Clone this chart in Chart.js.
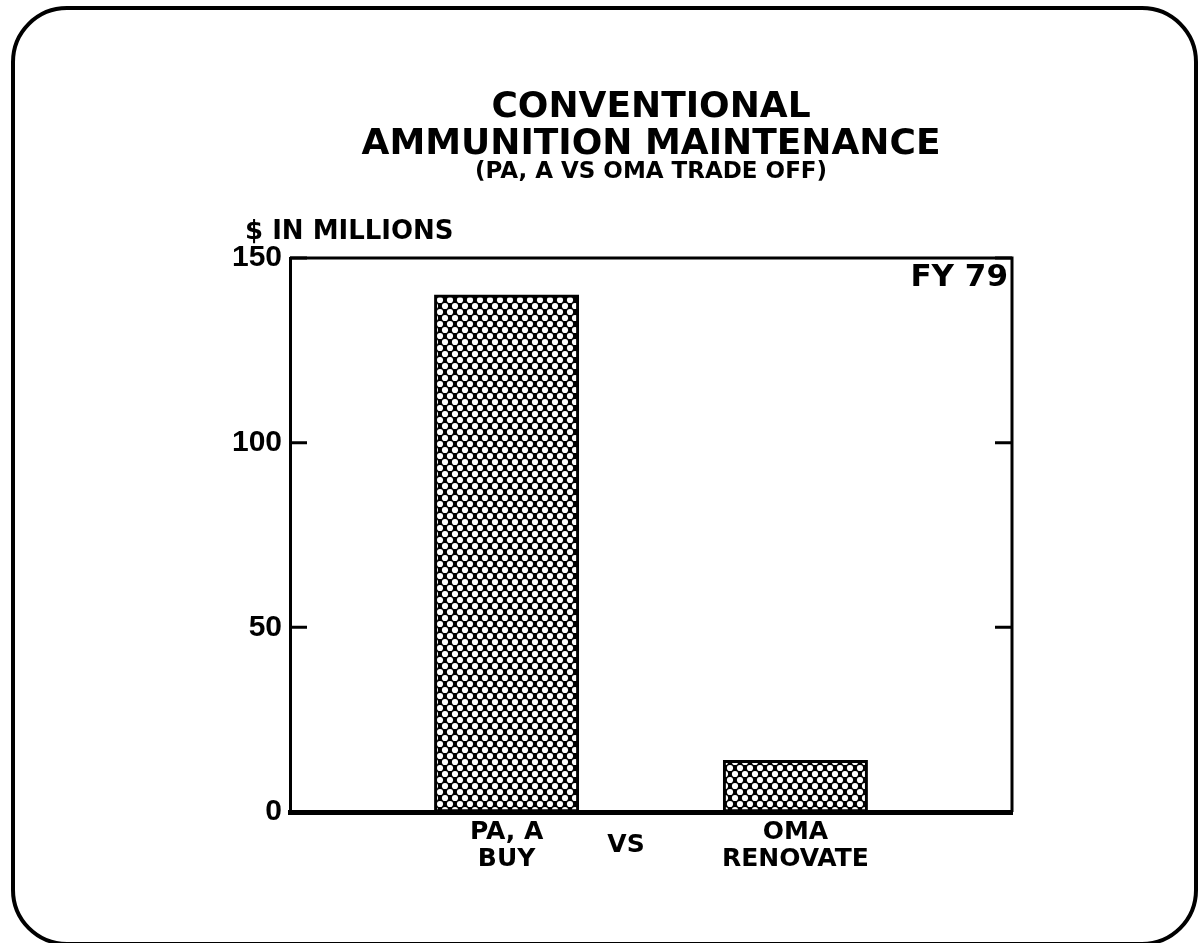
<!DOCTYPE html>
<html>
<head>
<meta charset="utf-8">
<title>Conventional Ammunition Maintenance</title>
<script src="https://cdn.jsdelivr.net/npm/chart.js@4.4.1/dist/chart.umd.min.js"></script>
<style>
  html, body { margin: 0; padding: 0; background: #fff; }
  .frame {
    position: absolute; left: 11px; top: 6px; width: 1187px; height: 940px;
    box-sizing: border-box; border: 4px solid #000; border-radius: 56px;
  }
  #chart { position: absolute; left: 0; top: 0; }
</style>
</head>
<body>
<div class="frame"></div>
<canvas id="chart" width="1200" height="943"></canvas>
<script>
// categories: empty slots on each side keep the bars spaced like the slide
// ("VS" carries trailing em spaces so it sits a little left of its slot)
const categories = [ '', ['PA, A', 'BUY'], 'VS\u2003\u2003', ['OMA', 'RENOVATE'], '' ];
const amounts = [ null, 140, null, 14, null ];   // $ in millions, FY 79
const yTicks = [ 0, 50, 100, 150 ];

const TEXT = "'DejaVu Sans', Verdana, sans-serif";
const NUM = "'Liberation Sans', Arial, Helvetica, sans-serif";

// cross-hatch fill: black with round white holes
function hatchPattern() {
    const c = document.createElement('canvas');
    c.width = 10; c.height = 12;
    const g = c.getContext('2d');
    g.fillStyle = '#000';
    g.fillRect(0, 0, 10, 12);
    g.fillStyle = '#fff';
    [[5, 6], [0, 0], [10, 0], [0, 12], [10, 12]].forEach(([x, y]) => {
        g.beginPath();
        g.arc(x, y, 3.1, 0, Math.PI * 2);
        g.fill();
    });
    return g.createPattern(c, 'repeat');
}

// top/right frame, inward ticks, axis caption and FY tag
const plotFrame = {
    id: 'plotFrame',
    afterDraw(chart) {
        const { ctx, chartArea: a, scales: { y } } = chart;
        ctx.save();
        ctx.strokeStyle = '#000';
        ctx.lineWidth = 3;
        ctx.beginPath();
        ctx.moveTo(a.left, a.top);
        ctx.lineTo(a.right, a.top);
        ctx.lineTo(a.right, a.bottom);
        ctx.stroke();

        yTicks.forEach(v => {
            const py = y.getPixelForValue(v);
            ctx.beginPath();
            ctx.moveTo(a.left, py);
            ctx.lineTo(a.left + 17, py);
            ctx.moveTo(a.right, py);
            ctx.lineTo(a.right - 17, py);
            ctx.stroke();
        });

        ctx.fillStyle = '#000';
        ctx.textBaseline = 'alphabetic';
        ctx.font = 'bold 26px ' + TEXT;
        ctx.textAlign = 'left';
        ctx.fillText('$ IN MILLIONS', a.left - 45, a.top - 19);
        ctx.font = 'bold 31px ' + TEXT;
        ctx.textAlign = 'right';
        ctx.fillText('FY 79', a.right - 4, a.top + 28);
        ctx.restore();
    }
};

new Chart(document.getElementById('chart'), {
    type: 'bar',
    data: {
        labels: categories,
        datasets: [{
            data: amounts,
            backgroundColor: hatchPattern(),
            borderColor: '#000',
            borderWidth: 3,
            borderSkipped: false,
            barPercentage: 1,
            categoryPercentage: 1
        }]
    },
    options: {
        responsive: false,
        animation: false,
        devicePixelRatio: 1,
        layout: { padding: { left: 0, right: 188, top: 0, bottom: 0 } },
        plugins: {
            legend: { display: false },
            tooltip: { enabled: false },
            title: {
                display: true,
                fullSize: false,
                text: ['CONVENTIONAL', 'AMMUNITION MAINTENANCE'],
                color: '#000',
                font: { family: TEXT, size: 36, weight: 'bold', lineHeight: '37px' },
                padding: { top: 89, bottom: 0 }
            },
            subtitle: {
                display: true,
                fullSize: false,
                text: '(PA, A VS OMA TRADE OFF)',
                color: '#000',
                font: { family: TEXT, size: 23, weight: 'bold', lineHeight: '18px' },
                padding: { top: 0, bottom: 77 }
            }
        },
        scales: {
            x: {
                grid: { display: false },
                border: { display: true, color: '#000', width: 5 },
                ticks: {
                    color: '#000',
                    padding: 12,
                    maxRotation: 0,
                    autoSkip: false,
                    crossAlign: 'center',
                    font: { family: TEXT, size: 25, weight: 'bold', lineHeight: '27px' }
                },
                afterFit(s) { s.height = 131; }
            },
            y: {
                min: 0,
                max: 150,
                grid: { display: false },
                border: { display: true, color: '#000', width: 3 },
                afterBuildTicks(s) { s.ticks = yTicks.map(v => ({ value: v })); },
                ticks: {
                    color: '#000',
                    padding: 0,
                    font: { family: NUM, size: 30, weight: 'bold' }
                },
                afterFit(s) { s.width = 290; }
            }
        }
    },
    plugins: [plotFrame]
});
</script>
</body>
</html>
